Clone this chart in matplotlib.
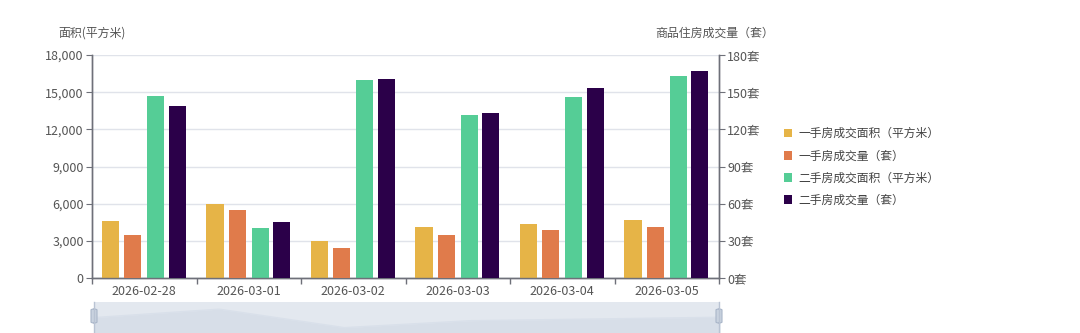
import matplotlib

matplotlib.use("Agg")
import matplotlib.pyplot as plt
import numpy as np
from matplotlib.patches import FancyBboxPatch, Patch
from matplotlib.ticker import FuncFormatter

plt.rcParams["font.family"] = ["Noto Sans CJK SC", "DejaVu Sans"]

# Daily housing transactions
dates = ["2026-02-28", "2026-03-01", "2026-03-02", "2026-03-03", "2026-03-04", "2026-03-05"]
new_area = [4600, 5980, 2960, 4090, 4370, 4660]        # 一手房成交面积 (m²)
new_count = [35, 55, 24, 35, 39, 41]                    # 一手房成交量 (套)
resale_area = [14700, 4010, 15990, 13170, 14580, 16310] # 二手房成交面积 (m²)
resale_count = [139, 45, 161, 133, 153, 167]            # 二手房成交量 (套)

series_names = ["一手房成交面积（平方米）", "一手房成交量（套）",
                "二手房成交面积（平方米）", "二手房成交量（套）"]
colors = ["#e6b447", "#e07b4b", "#55cd96", "#2b0049"]

W, H = 1080, 333
fig = plt.figure(figsize=(W / 100, H / 100), dpi=100)
ax = fig.add_axes([92 / W, 1 - 278 / H, 627 / W, 223 / H])
ax2 = ax.twinx()

x = np.arange(len(dates))
offsets = [-0.323, -0.108, 0.108, 0.318]
bw = 0.163
ax.bar(x + offsets[0], new_area, bw, color=colors[0], zorder=3)
ax2.bar(x + offsets[1], new_count, bw, color=colors[1], zorder=3)
ax.bar(x + offsets[2], resale_area, bw, color=colors[2], zorder=3)
ax2.bar(x + offsets[3], resale_count, bw, color=colors[3], zorder=3)

axis_col = "#6e7079"
label_col = "#555555"
fs = 9

ax.set_xlim(-0.5, len(dates) - 0.5)
ax.set_ylim(0, 18000)
ax.set_yticks(np.arange(0, 18001, 3000))
ax.yaxis.set_major_formatter(FuncFormatter(lambda v, p: f"{int(v):,}"))
ax2.set_ylim(0, 180)
ax2.set_yticks(np.arange(0, 181, 30))
ax2.yaxis.set_major_formatter(FuncFormatter(lambda v, p: f"{int(v)}套"))

ax.grid(axis="y", color="#e0e3ea", linewidth=1, zorder=0)
ax.set_axisbelow(True)

# category boundary ticks with labels centred between them
ax.set_xticks(np.arange(-0.5, len(dates), 1.0))
ax.set_xticklabels([])
ax.set_xticks(x, minor=True)
ax.set_xticklabels(dates, minor=True)
ax.tick_params(axis="x", which="major", length=4, color=axis_col, width=1)
ax.tick_params(axis="x", which="minor", length=0, pad=5, labelsize=fs, labelcolor=label_col)
ax.tick_params(axis="y", length=4, color=axis_col, labelsize=fs, labelcolor=label_col, pad=2)
ax2.tick_params(axis="y", length=4, color=axis_col, labelsize=fs, labelcolor=label_col, pad=2)

for a in (ax, ax2):
    a.spines["top"].set_visible(False)
    for s in ("left", "right", "bottom"):
        a.spines[s].set_color(axis_col)
        a.spines[s].set_linewidth(1)

fig.text(92 / W, 1 - 33 / H, "面积(平方米)", ha="center", va="center", fontsize=8.6, color=label_col)
fig.text(715 / W, 1 - 33 / H, "商品住房成交量（套）", ha="center", va="center", fontsize=8.6, color=label_col)

handles = [Patch(facecolor=c, edgecolor="none") for c in colors]
fig.legend(handles, series_names, loc="center left", bbox_to_anchor=(773 / W, 1 - 167 / H),
           frameon=False, fontsize=8.5, labelcolor="#444444", handlelength=0.75, handleheight=0.75,
           handletextpad=0.5, labelspacing=0.78)

# data-zoom slider strip along the bottom
sl = fig.add_axes([94 / W, 1 - 343 / H, 626 / W, 41 / H])
sl.set_facecolor("#e3e8ef")
sl.set_xlim(0, len(dates) - 1)
sl.set_ylim(450, 7150)
sl.fill_between(x, new_area, 450, color="#d7dee8", linewidth=0)
sl.plot(x, new_area, color="#d9e0ea", linewidth=1)
sl.set_xticks([])
sl.set_yticks([])
for s in sl.spines.values():
    s.set_visible(False)
for hx in (94, 719):
    fig.add_artist(plt.Line2D([hx / W, hx / W], [1 - 343 / H, 1 - 302 / H], color="#b9c3d3", lw=1))
    fig.add_artist(FancyBboxPatch(((hx - 3) / W, 1 - 323 / H), 6 / W, 14 / H,
                                  boxstyle="round,pad=0,rounding_size=0.003",
                                  facecolor="#c9d2df", edgecolor="#a9b6c9", lw=0.8))

fig.savefig("out.png", dpi=100)
